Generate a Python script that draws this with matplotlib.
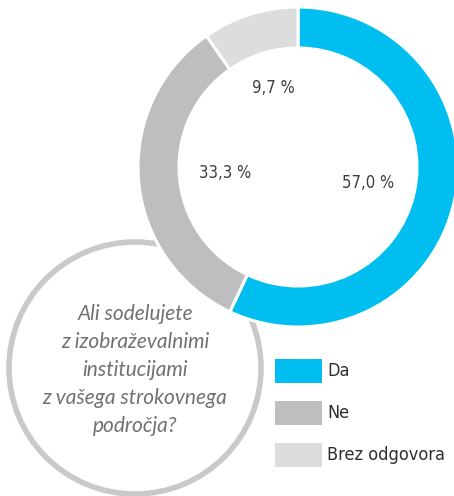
import matplotlib
matplotlib.use('Agg')
import matplotlib.pyplot as plt
from matplotlib.patches import Circle, Rectangle
import numpy as np

W, H = 454, 496

categories = ['Da', 'Ne', 'Brez odgovora']
shares = [57.0, 33.3, 9.7]
labels = ['57,0 %', '33,3 %', '9,7 %']
colors = ['#00bff0', '#bdbec0', '#dcdddf']
question = 'Ali sodelujete\nz izobraževalnimi\ninstitucijami\nz vašega strokovnega\npodročja?'

narrow = dict(family='DejaVu Sans', stretch='condensed')

fig = plt.figure(figsize=(W / 100, H / 100), dpi=100)
ax = fig.add_axes([0, 0, 1, 1])

# big outlined circle behind the donut
ax.add_patch(Circle((135, H - 368), 126, facecolor='white', edgecolor='#c9c9ca', linewidth=4, zorder=1))
ax.text(135, H - 370, question, ha='center', va='center', fontsize=15, style='italic',
        family=['Lato', 'DejaVu Sans'], color='#707174', linespacing=1.5, zorder=3)

cx, cy, R = 298, H - 167, 160
wedges, _ = ax.pie(shares, colors=colors, startangle=90, counterclock=False, radius=R, center=(cx, cy),
                   wedgeprops=dict(width=41, edgecolor='white', linewidth=2.2), frame=True)
for w in wedges:
    w.set_zorder(2)

label_r = [72, 73, 83]
for w, lab, r in zip(wedges, labels, label_r):
    a = np.deg2rad((w.theta1 + w.theta2) / 2)
    ax.text(cx + r * np.cos(a), cy + r * np.sin(a), lab, ha='center', va='center',
            fontsize=12, color='#3d3d3d', zorder=3, **narrow)

# legend
for i, (cat, col) in enumerate(zip(categories, colors)):
    y = H - (371 + 42 * i)
    ax.add_patch(Rectangle((275, y - 12), 47, 24, facecolor=col, edgecolor='none', zorder=3))
    ax.text(327, y, cat, ha='left', va='center', fontsize=13, color='#2e2e2e', zorder=3, **narrow)

ax.set_xlim(0, W)
ax.set_ylim(0, H)
ax.set_aspect('auto')
ax.axis('off')

fig.savefig('out.png', dpi=100)
